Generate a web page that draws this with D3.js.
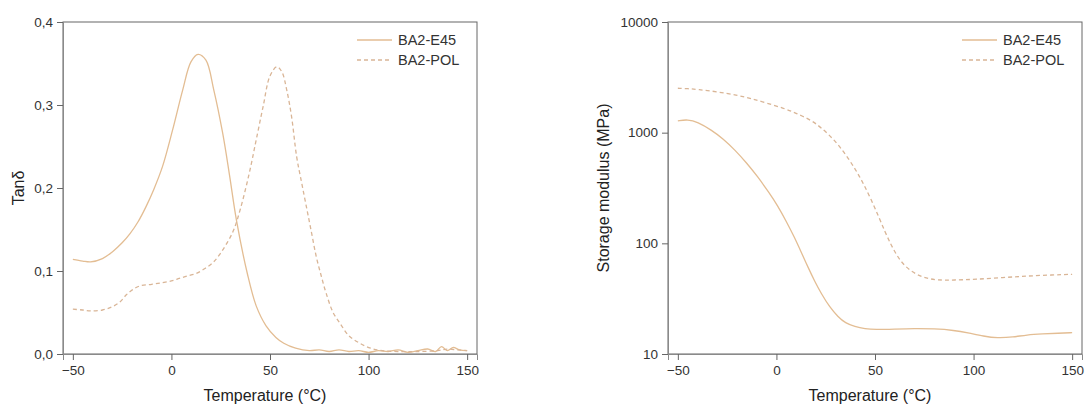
<!DOCTYPE html>
<html>
<head>
<meta charset="utf-8">
<script src="https://cdn.jsdelivr.net/npm/d3@7"></script>
<style>
  body { margin: 0; background: #fff; }
  svg { display: block; font-family: "Liberation Sans", Arial, sans-serif; }
</style>
</head>
<body>
<svg id="chart" width="1086" height="410"></svg>
<script>
// ---------- data ----------
const seriesNames = ["BA2-E45", "BA2-POL"];
const xTicks = [-50, 0, 50, 100, 150];
const tanTicks = [0.0, 0.1, 0.2, 0.3, 0.4];
const modTicks = [10, 100, 1000, 10000];

const tanE45T = [-50,-45,-41,-35,-30,-25,-21,-17,-13,-9,-4.5,0.6,5.7,9.9,13.5,17.5,21.5,26,29.5,33,38.5,43,48,53,57,63,70,75,80,85,90,95,100,105,110,115,120,125,130,134,137,140,143,146,150];
const tanE45V = [0.114,0.112,0.111,0.115,0.123,0.134,0.145,0.159,0.177,0.198,0.226,0.27,0.318,0.352,0.361,0.354,0.318,0.266,0.215,0.161,0.097,0.058,0.034,0.02,0.013,0.007,0.004,0.005,0.003,0.005,0.003,0.004,0.002,0.004,0.003,0.005,0.002,0.004,0.006,0.003,0.009,0.004,0.008,0.005,0.004];

const tanPOLT = [-50,-45,-41,-35,-30,-26,-23,-20,-16,-10,-4.5,0,4,8,12.5,17,21,24.5,28,31.5,35,39.5,43,46.5,50,53.5,56,58.5,61,63.5,66,68.5,71,73.5,76,78.5,82,85.5,90,95.5,101,107,115,125,135,140,145,150];
const tanPOLV = [0.054,0.053,0.052,0.053,0.057,0.063,0.071,0.077,0.082,0.084,0.086,0.088,0.091,0.094,0.097,0.103,0.11,0.12,0.133,0.149,0.175,0.218,0.258,0.298,0.335,0.346,0.34,0.318,0.285,0.238,0.207,0.177,0.147,0.117,0.094,0.073,0.05,0.037,0.022,0.013,0.007,0.004,0.003,0.003,0.004,0.006,0.005,0.004];

const modE45T = [-50,-45,-40,-33,-27,-21,-15,-9.5,-4,0.7,5,9.2,13,16,19.5,22.7,27,31.2,35,39.7,45,50,60,70,80,90,98,105,112,120,127,135,143,150];
const modE45V = [1280,1318,1250,1057,880,697,530,400,292,218,158,113,80,61,45,35.3,26.5,21.7,19,17.7,16.9,16.6,16.8,17,16.9,16.4,15.4,14.5,13.9,14.2,14.9,15.2,15.4,15.6];

const modPOLT = [-50,-45,-40,-30,-20,-13,-5,4,10,17.6,23,29.5,35,40,44,48,52,55,58,61,65,71,76,81,90,101,115,127,140,150];
const modPOLV = [2520,2500,2460,2344,2180,2043,1850,1656,1500,1300,1100,857,640,470,350,250,172,128,98,78,62,52,48.5,46.5,46.5,47.3,49,50.7,51.8,52.5];

// ---------- styles ----------
const lineColor = "#e3bd93";
const dashColor = "#d9b596";
const textColor = "#333";

const svg = d3.select("#chart");

function zip(T, V) { return T.map((t, i) => ({ t, v: V[i] })); }

function drawPanel(opt) {
  const x = d3.scaleLinear().domain([-55, 155]).range([opt.x0, opt.x1]);
  const y = opt.y;
  const g = svg.append("g");

  g.append("rect")
    .attr("x", opt.x0).attr("y", opt.yTop)
    .attr("width", opt.x1 - opt.x0).attr("height", opt.yBot - opt.yTop)
    .attr("fill", "none").attr("stroke", "#666").attr("stroke-width", 1);

  const xa = g.append("g").attr("transform", `translate(0,${opt.yBot})`)
    .call(d3.axisBottom(x).tickValues(xTicks).tickSize(6).tickPadding(5).tickFormat(d3.format("d")));
  const ya = g.append("g").attr("transform", `translate(${opt.x0},0)`)
    .call(d3.axisLeft(y).tickValues(opt.yTicks).tickSize(6).tickPadding(4).tickFormat(opt.yFormat));
  [xa, ya].forEach(a => {
    a.select(".domain").attr("stroke", "#8a8a8a");
    a.selectAll(".tick line").attr("stroke", "#666");
    a.selectAll(".tick text").attr("fill", textColor).style("font-size", "13.5px")
      .style("font-family", '"Liberation Sans", Arial, sans-serif');
  });

  const line = d3.line().x(d => x(d.t)).y(d => y(d.v)).curve(opt.curve);

  g.append("path").datum(zip(opt.aT, opt.aV))
    .attr("d", line).attr("fill", "none").attr("stroke", lineColor).attr("stroke-width", 1.3);
  g.append("path").datum(zip(opt.bT, opt.bV))
    .attr("d", line).attr("fill", "none").attr("stroke", dashColor).attr("stroke-width", 1.3)
    .attr("stroke-dasharray", "4,3");

  g.append("text").attr("x", (opt.x0 + opt.x1) / 2 - 5).attr("y", 401)
    .attr("text-anchor", "middle").attr("fill", "#222").style("font-size", "16px")
    .text("Temperature (°C)");
  g.append("text")
    .attr("transform", `translate(${opt.yTitleX},${(opt.yTop + opt.yBot) / 2}) rotate(-90)`)
    .attr("text-anchor", "middle").attr("fill", "#222").style("font-size", "16px")
    .text(opt.yTitle);

  const lg = g.append("g");
  [0, 1].forEach(i => {
    const yy = 40 + i * 20;
    lg.append("line").attr("x1", opt.legX).attr("x2", opt.legX + 35)
      .attr("y1", yy).attr("y2", yy)
      .attr("stroke", i === 0 ? lineColor : dashColor).attr("stroke-width", 1.3)
      .attr("stroke-dasharray", i === 0 ? null : "4,3");
    lg.append("text").attr("x", opt.legX + 41).attr("y", yy + 5)
      .attr("fill", textColor).style("font-size", "14.5px").text(seriesNames[i]);
  });
}

const yTop = 22, yBot = 354;

drawPanel({
  x0: 63, x1: 477, yTop, yBot,
  y: d3.scaleLinear().domain([0, 0.4]).range([yBot, yTop]),
  yTicks: tanTicks,
  yFormat: d => d3.format(".1f")(d).replace(".", ","),
  aT: tanE45T, aV: tanE45V, bT: tanPOLT, bV: tanPOLV,
  curve: d3.curveCatmullRom.alpha(0.5),
  yTitle: "Tanδ", yTitleX: 24, legX: 357
});

drawPanel({
  x0: 668, x1: 1082, yTop, yBot,
  y: d3.scaleLog().domain([10, 10000]).range([yBot, yTop]),
  yTicks: modTicks,
  yFormat: d3.format("d"),
  aT: modE45T, aV: modE45V, bT: modPOLT, bV: modPOLV,
  curve: d3.curveBasis,
  yTitle: "Storage modulus (MPa)", yTitleX: 609, legX: 962
});
</script>
</body>
</html>
